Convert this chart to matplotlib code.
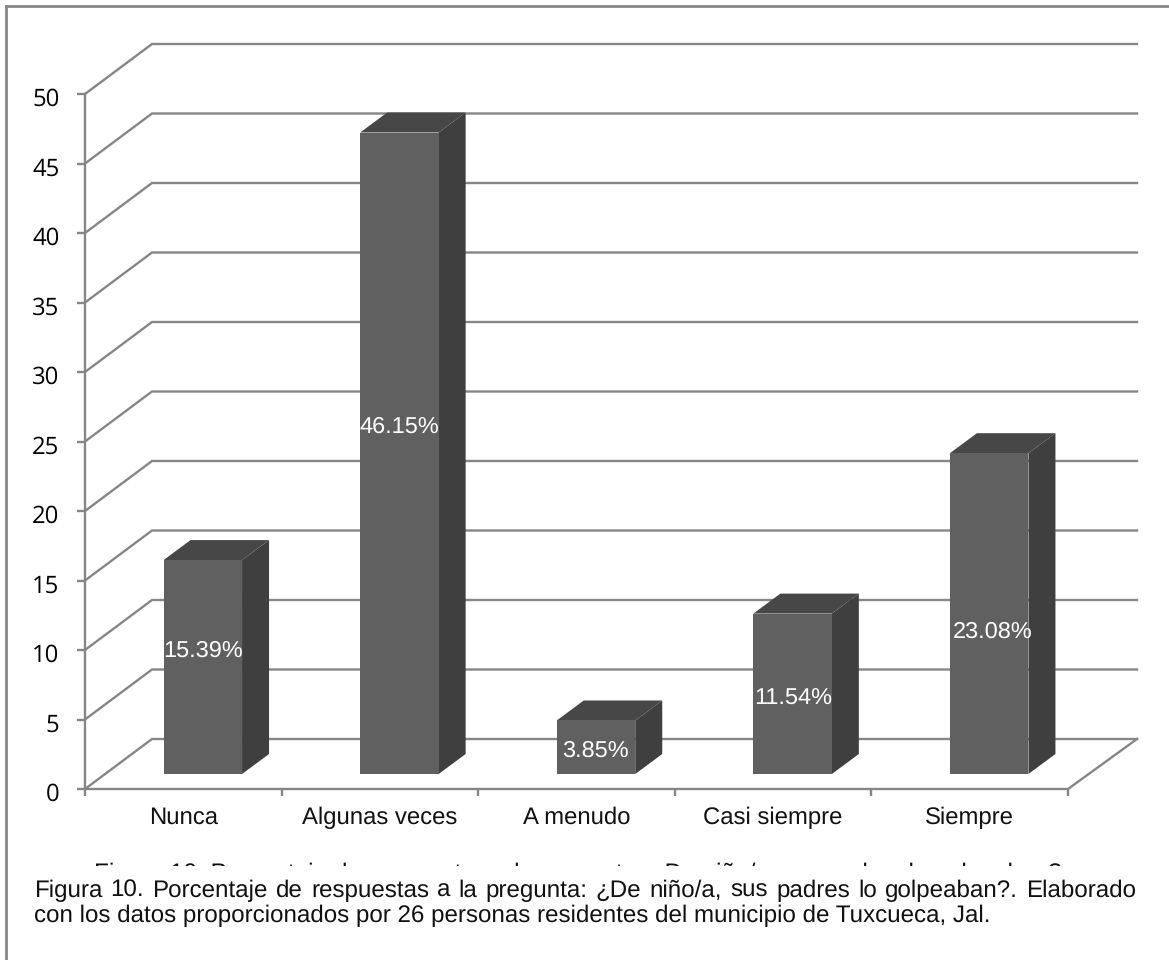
import matplotlib
matplotlib.use("Agg")
import matplotlib.pyplot as plt
from matplotlib.lines import Line2D
from matplotlib.transforms import Bbox, ScaledTranslation

plt.rcParams["text.hinting"] = "no_hinting"

# Survey results
categories = ["Nunca", "Algunas veces", "A menudo", "Casi siempre", "Siempre"]
percentages = [15.39, 46.15, 3.85, 11.54, 23.08]
value_labels = ["15.39%", "46.15%", "3.85%", "11.54%", "23.08%"]
y_ticks = list(range(0, 55, 5))
caption_lines = [
    "Figura 10. Porcentaje de respuestas a la pregunta: ¿De niño/a, sus padres lo golpeaban?. Elaborado",
    "con los datos proporcionados por 26 personas residentes del municipio de Tuxcueca, Jal.",
]
hidden_caption = "Figura 10. Porcentaje de respuestas a la pregunta: ¿De niño/a, sus padres lo golpeaban?"

W, H = 1169, 960
SANS = "Liberation Sans"
GRID = "#868686"
FRONT, SIDE, TOP = "#606060", "#3f3f3f", "#474747"
LW = 1.7

fig = plt.figure(figsize=(W / 100, H / 100), dpi=100, facecolor="white")

# Plot area: front edge of the floor and front edge of the value axis
AX_L, AX_R, AX_T, AX_B = 85, 1068, 94, 789
ax = fig.add_axes([AX_L / W, 1 - AX_B / H, (AX_R - AX_L) / W, (AX_B - AX_T) / H])
ax.set_xlim(0, len(categories))
ax.set_ylim(0, 50)
ax.patch.set_alpha(0)

ux = len(categories) / (AX_R - AX_L)   # data units per pixel, horizontally
uy = 50 / (AX_B - AX_T)                # data units per pixel, vertically

# Wall depth and bar geometry, in pixels
wall_dx_l, wall_dx_r, wall_dy = 67, 69, 50
bar_inset, bar_width = 19.5, 78.5
bar_lift = 15
bar_dx, bar_dy = 27, 20

# Back wall gridlines and their return along the side wall
for v in y_ticks:
    ax.plot([0, wall_dx_l * ux, 5 + wall_dx_r * ux],
            [v, v + wall_dy * uy, v + wall_dy * uy],
            color=GRID, lw=LW, clip_on=False, zorder=1, solid_joinstyle="miter")
ax.plot([5, 5 + wall_dx_r * ux], [0, wall_dy * uy], color=GRID, lw=LW, clip_on=False, zorder=1)

# Bars: front face plus the two extruded faces
for i, val in enumerate(percentages):
    x0 = i + (98.3 - bar_width / 2 + bar_inset) * ux
    x1 = x0 + bar_width * ux
    y0 = bar_lift * uy
    y1 = y0 + val
    ddx, ddy = bar_dx * ux, bar_dy * uy
    ax.fill([x1, x1 + ddx, x1 + ddx, x1], [y0, y0 + ddy, y1 + ddy, y1],
            color=SIDE, lw=0, clip_on=False, zorder=3)
    ax.fill([x0, x1, x1 + ddx, x0 + ddx], [y1, y1, y1 + ddy, y1 + ddy],
            color=TOP, lw=0, clip_on=False, zorder=3)
    ax.bar((x0 + x1) / 2, val, width=x1 - x0, bottom=y0, color=FRONT, lw=0,
           clip_on=False, zorder=4)

# Value labels sit at slightly different heights on each bar
label_shift_px = [-16, -26, 4, 5, 18]
label_nudge_px = [0, 0, -1, 1, 3]
for i, (val, txt) in enumerate(zip(percentages, value_labels)):
    cx = i + (98.3 + bar_inset) * ux + label_nudge_px[i] * ux
    cy = bar_lift * uy + val / 2 - label_shift_px[i] * uy
    ax.text(cx, cy, txt, color="white", family=SANS, fontsize=16.9,
            ha="center", va="center", zorder=5, clip_on=False)

# Axes
for s in ("top", "right"):
    ax.spines[s].set_visible(False)
for s in ("left", "bottom"):
    ax.spines[s].set_color(GRID)
    ax.spines[s].set_linewidth(LW)
ax.set_yticks(y_ticks)
ax.set_xticks(range(len(categories) + 1))
ax.set_xticklabels([""] * (len(categories) + 1))
ax.tick_params(axis="y", length=5.5, width=LW, color=GRID, pad=13, labelsize=17.2)
ax.tick_params(axis="x", length=5, width=LW, color=GRID)
shift = ScaledTranslation(0, -2 / 72, fig.dpi_scale_trans)
for lab in ax.get_yticklabels():
    lab.set_family("Open Sans")
    lab.set_transform(lab.get_transform() + shift)
for i, name in enumerate(categories):
    ax.annotate(name, (i + 0.5, 0), xytext=(0, -35 * 0.72), textcoords="offset points",
                ha="center", va="baseline", family=SANS, fontsize=17.2, color="#111111")


def fig_xy(px, py):
    return px / W, 1 - py / H


# Outer frame: only the top and left edges fall inside the canvas
fig.add_artist(Line2D([6 / W, 1], [1 - 6 / H, 1 - 6 / H], color=GRID, lw=2))
fig.add_artist(Line2D([6 / W, 6 / W], [1 - 6 / H, 0], color=GRID, lw=2))

# Caption hidden behind the text box: only the tops of its letters show
hx, hy = fig_xy(578, 880.5)
hidden = fig.text(hx, hy, hidden_caption, family=SANS, fontsize=17.6, ha="center", va="baseline",
                  color="#111111")
hidden.set_clip_box(Bbox([[0, H - 865.5], [W, H]]))
hidden.set_clip_on(True)

# Caption, first line justified across the text box
renderer = fig.canvas.get_renderer()
CAP_SIZE = 17.35
words = caption_lines[0].split(" ")
widths = []
for w in words:
    t = fig.text(0, 0, w, family=SANS, fontsize=CAP_SIZE)
    widths.append(t.get_window_extent(renderer).width)
    t.remove()
left, right = 34, 1136
gap = (right - left - sum(widths)) / (len(words) - 1)
px = left
for w, wd in zip(words, widths):
    x, y = fig_xy(px, 897)
    fig.text(x, y, w, family=SANS, fontsize=CAP_SIZE, va="baseline", color="#111111")
    px += wd + gap
x, y = fig_xy(34, 922.5)
fig.text(x, y, caption_lines[1], family=SANS, fontsize=CAP_SIZE, va="baseline", color="#111111")

fig.savefig("out.png", dpi=100, facecolor="white")
